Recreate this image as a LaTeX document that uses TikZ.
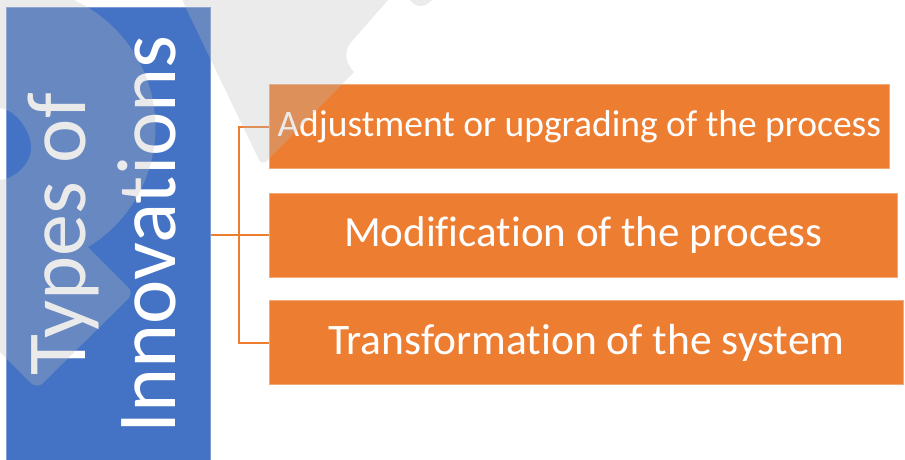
\documentclass[tikz,border=0pt]{standalone}
\usepackage{fontspec}
\setmainfont[Ligatures={NoCommon}]{Carlito}
\definecolor{titleblue}{HTML}{4472C4}
\definecolor{boxorange}{HTML}{ED7D31}
\definecolor{shade}{RGB}{188,188,188}
\begin{document}
\begin{tikzpicture}[x=1pt,y=-1pt,
  itembox/.style={rectangle, fill=boxorange, draw=boxorange!65!white, line width=0.6pt,
    minimum height=84pt, inner sep=0pt, text=white, anchor=west},
  link/.style={draw=boxorange, line width=2pt},
  watermark/.style={fill=shade, fill opacity=0.3}]
\useasboundingbox (0,0) rectangle (905,459);
% title panel
\node[fill=titleblue, draw=titleblue!70!white, line width=0.6pt, minimum width=204pt,
  minimum height=460pt, inner sep=0pt, anchor=north west] (title) at (6,7) {};
\node[rotate=90, text=white, align=center, inner sep=0pt,
  font=\fontsize{84}{90}\selectfont] (titletext) at (102,234.5) {Types of\\Innovations};
% items
\node[itembox, minimum width=620pt, font=\fontsize{37.5}{41}\selectfont] (b1) at (269,126.5)
  {Adjustment or upgrading of the process};
\node[itembox, minimum width=628pt, font=\fontsize{43}{47}\selectfont] (b2) at (269,235)
  {Modification of the process};
\node[itembox, minimum width=634pt, font=\fontsize{43.5}{47}\selectfont] (b3) at (269,342.5)
  {Transformation of the system};
% connectors
\draw[link] (title.east |- b2.west) -- (b2.west);
\draw[link] (b1.west) -- ++(-30,0) |- (b3.west);
% watermark overlay
\begin{scope}
\clip (0,0) rectangle (905,459);
\fill[watermark] (0,0) -- (74,0)
  -- plot[domain=-65.3:58.8, samples=60] ({15.5+140*cos(\x)},{127.3+140*sin(\x)})
  [rounded corners=8pt] -- (134,293) -- (37,389) [sharp corners] -- (0,352) -- (0,180)
  .. controls (18,178) and (33,160) .. (31,145)
  .. controls (29,128) and (15,110) .. (0,108) -- cycle;
\fill[watermark] (182,0) -- (388,0) -- (353,40)
  .. controls (343,50) and (345,63) .. (354,72)
  [rounded corners=7pt] -- (262,166) -- (182,0) -- cycle;
\fill[watermark] (410,0) .. controls (416,8) and (425,8) .. (432,0) -- cycle;
\end{scope}
\end{tikzpicture}
\end{document}
